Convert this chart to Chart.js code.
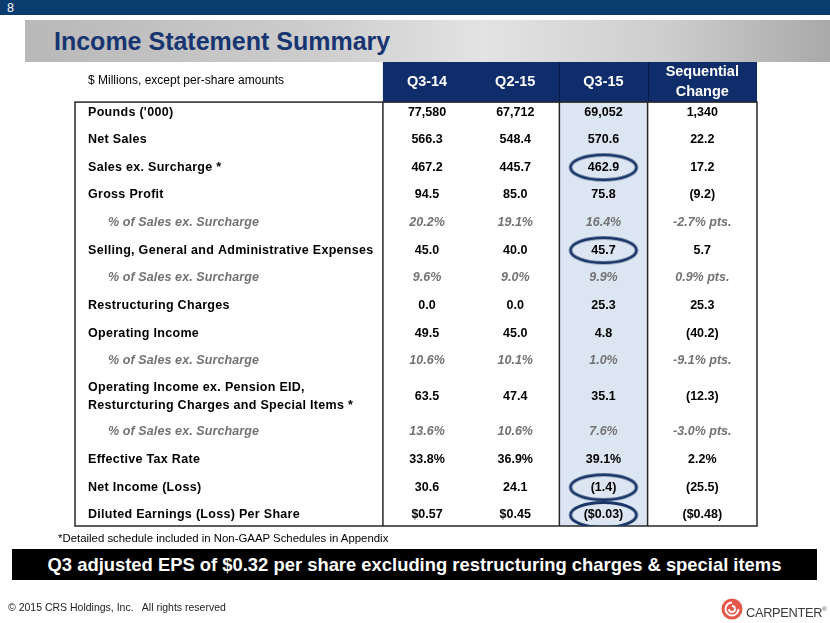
<!DOCTYPE html>
<html>
<head>
<meta charset="utf-8">
<script src="https://cdn.jsdelivr.net/npm/chart.js@4.4.0/dist/chart.umd.min.js"></script>
<style>
  html, body { margin: 0; padding: 0; background: #fff; }
  body { width: 830px; height: 623px; position: relative; overflow: hidden; font-family: "Liberation Sans", Arial, sans-serif; }
  #topbar { position: absolute; left: 0; top: 0; width: 830px; height: 15px; background: #0b3c6f; }
  #slideNo { position: absolute; left: 7px; top: 1px; color: #fff; font-size: 12.5px; line-height: 14px; }
  #band { position: absolute; left: 25px; top: 20px; width: 805px; height: 42px;
          background: linear-gradient(90deg, #b8b8b8 0%, #cccccc 35%, #e3e3e3 57%, #cdcdcd 80%, #a9a9a9 100%); }
  #title { position: absolute; left: 54px; top: 29px; font-size: 25px; line-height: 25px; font-weight: bold; color: #173570; }
  #wrap { position: absolute; left: 0; top: 0; width: 830px; height: 623px; }
  #note { position: absolute; left: 58px; top: 531px; font-size: 11.4px; line-height: 14px; color: #000; }
  #banner { position: absolute; left: 12px; top: 549px; width: 805px; height: 31px; background: #000; color: #fff;
            font-weight: bold; font-size: 18.4px; line-height: 31px; text-align: center; }
  #copy { position: absolute; left: 8px; top: 601px; font-size: 10.5px; line-height: 13px; color: #222; white-space: pre; }
  #logo { position: absolute; left: 721px; top: 598px; height: 22px; }
  #logoText { position: absolute; left: 746px; top: 601px; font-size: 12.8px; line-height: 16px; color: #3a3a3a; letter-spacing: -0.3px; }
  #logoText sup { font-size: 6px; vertical-align: 6px; }
</style>
</head>
<body>
<div id="topbar"></div>
<div id="slideNo">8</div>
<div id="band"></div>
<div id="title">Income Statement Summary</div>
<div id="wrap"><canvas id="chart" width="830" height="623"></canvas></div>
<div id="note">*Detailed schedule included in Non-GAAP Schedules in Appendix</div>
<div id="banner">Q3 adjusted EPS of $0.32 per share excluding restructuring charges &amp; special items</div>
<div id="copy">© 2015 CRS Holdings, Inc.   All rights reserved</div>
<svg id="logo" width="22" height="22" viewBox="0 0 22 22">
  <circle cx="11" cy="11" r="10.5" fill="#e5574b"/>
  <path d="M11 4.5 A6.5 6.5 0 1 0 17.5 11" fill="none" stroke="#fff" stroke-width="2"/>
  <path d="M11 8 A3 3 0 1 1 8 11" fill="none" stroke="#fff" stroke-width="1.8"/>
</svg>
<div id="logoText">CARPENTER<sup>®</sup></div>

<script>
// table content
const unitsNote = "$ Millions, except per-share amounts";
const periods = ["Q3-14", "Q2-15", "Q3-15", ["Sequential", "Change"]];
const rowLabels = [
    "Pounds ('000)",
    "Net Sales",
    "Sales ex. Surcharge *",
    "Gross Profit",
    "% of Sales ex. Surcharge",
    "Selling, General and Administrative Expenses",
    "% of Sales ex. Surcharge",
    "Restructuring Charges",
    "Operating Income",
    "% of Sales ex. Surcharge",
    ["Operating Income ex. Pension EID,", "Resturcturing Charges and Special Items *"],
    "% of Sales ex. Surcharge",
    "Effective Tax Rate",
    "Net Income (Loss)",
    "Diluted Earnings (Loss) Per Share"
];
const q314 = ["77,580", "566.3", "467.2", "94.5", "20.2%", "45.0", "9.6%", "0.0", "49.5", "10.6%", "63.5", "13.6%", "33.8%", "30.6", "$0.57"];
const q215 = ["67,712", "548.4", "445.7", "85.0", "19.1%", "40.0", "9.0%", "0.0", "45.0", "10.1%", "47.4", "10.6%", "36.9%", "24.1", "$0.45"];
const q315 = ["69,052", "570.6", "462.9", "75.8", "16.4%", "45.7", "9.9%", "25.3", "4.8", "1.0%", "35.1", "7.6%", "39.1%", "(1.4)", "($0.03)"];
const seqChange = ["1,340", "22.2", "17.2", "(9.2)", "-2.7% pts.", "5.7", "0.9% pts.", "25.3", "(40.2)", "-9.1% pts.", "(12.3)", "-3.0% pts.", "2.2%", "(25.5)", "($0.48)"];
const ratioRows = [4, 6, 9, 11];        // italic grey rows
const circledRows = [2, 5, 13, 14];     // circled in the Q3-15 column
const highlightCol = 3;

// layout (column widths / row heights in scale units)
const colWidths = [3.49, 1, 1, 1, 1.24];
const colEdges = colWidths.reduce((a, w) => a.concat(a[a.length - 1] + w), [0]);
const colCenter = i => (colEdges[i] + colEdges[i + 1]) / 2;
const rowHeight = rowLabels.map(l => Array.isArray(l) ? 1.57 : 1);
const rowCenters = [];
rowHeight.forEach((h, i) => {
    rowCenters.push(i === 0 ? 0 : rowCenters[i - 1] + (rowHeight[i - 1] + h) / 2);
});
const bodyTop = -0.36;
const headTop = -1.81;
const bodyBottom = rowCenters[rowCenters.length - 1] + 0.4;

const columns = [q314, q215, q315, seqChange];

// ellipse marker used as point style
function makeEllipse() {
    const c = document.createElement('canvas');
    c.width = 72;
    c.height = 30;
    const g = c.getContext('2d');
    g.strokeStyle = '#1a3668';
    g.lineWidth = 3;
    g.beginPath();
    g.ellipse(36, 15, 33, 12.5, 0, 0, Math.PI * 2);
    g.stroke();
    return c;
}

const tablePlugin = {
    id: 'tableCells',
    beforeDatasetsDraw(chart) {
        const { ctx, scales: { x, y } } = chart;
        const px = v => x.getPixelForValue(v);
        const py = v => y.getPixelForValue(v);
        ctx.save();

        // highlighted column
        ctx.fillStyle = '#dce6f2';
        ctx.fillRect(px(colEdges[highlightCol]), py(bodyTop), px(colEdges[highlightCol + 1]) - px(colEdges[highlightCol]), py(bodyBottom) - py(bodyTop));

        // header
        ctx.fillStyle = '#0f2d6b';
        ctx.fillRect(px(colEdges[1]), py(headTop), px(colEdges[5]) - px(colEdges[1]), py(bodyTop) - py(headTop));
        ctx.strokeStyle = '#061a45';
        ctx.lineWidth = 1;
        [3, 4].forEach(i => {
            ctx.beginPath();
            ctx.moveTo(Math.round(px(colEdges[i])) + 0.5, py(headTop));
            ctx.lineTo(Math.round(px(colEdges[i])) + 0.5, py(bodyTop));
            ctx.stroke();
        });

        // body borders
        ctx.strokeStyle = '#262626';
        ctx.lineWidth = 1.5;
        ctx.strokeRect(px(colEdges[0]), py(bodyTop), px(colEdges[5]) - px(colEdges[0]), py(bodyBottom) - py(bodyTop));
        [1, 3, 4].forEach(i => {
            ctx.beginPath();
            ctx.moveTo(px(colEdges[i]), py(bodyTop));
            ctx.lineTo(px(colEdges[i]), py(bodyBottom));
            ctx.stroke();
        });

        // header text
        ctx.textBaseline = 'middle';
        ctx.fillStyle = '#000';
        ctx.textAlign = 'left';
        ctx.font = '12px "Liberation Sans", Arial, sans-serif';
        ctx.fillText(unitsNote, px(0) + 13, py((headTop + bodyTop) / 2) - 1);

        ctx.fillStyle = '#fff';
        ctx.textAlign = 'center';
        ctx.font = 'bold 14.5px "Liberation Sans", Arial, sans-serif';
        periods.forEach((p, i) => {
            const cx = px(colCenter(i + 1));
            const cy = py((headTop + bodyTop) / 2);
            if (Array.isArray(p)) {
                ctx.fillText(p[0], cx, cy - 10);
                ctx.fillText(p[1], cx, cy + 10);
            } else {
                ctx.fillText(p, cx, cy);
            }
        });

        // body text
        rowLabels.forEach((label, r) => {
            const ratio = ratioRows.includes(r);
            ctx.font = (ratio ? 'italic ' : '') + 'bold 12.5px "Liberation Sans", Arial, sans-serif';
            ctx.fillStyle = ratio ? '#727272' : '#000';
            const cy = py(rowCenters[r]);
            ctx.textAlign = 'left';
            ctx.letterSpacing = ratio ? '0.1px' : '0.3px';
            const lx = px(0) + (ratio ? 33 : 13);
            if (Array.isArray(label)) {
                ctx.fillText(label[0], lx, cy - 9);
                ctx.fillText(label[1], lx, cy + 9);
            } else {
                ctx.fillText(label, lx, cy);
            }
            ctx.letterSpacing = '0px';
            ctx.textAlign = 'center';
            columns.forEach((col, c) => {
                ctx.fillText(col[r], px(colCenter(c + 1)), cy);
            });
        });
        ctx.restore();
    }
};

new Chart(document.getElementById('chart'), {
    type: 'scatter',
    data: {
        datasets: [{
            label: 'circled',
            data: circledRows.map(r => ({ x: colCenter(highlightCol), y: rowCenters[r] })),
            pointStyle: makeEllipse(),
            pointRadius: 10,
            pointHoverRadius: 10
        }]
    },
    options: {
        responsive: false,
        animation: false,
        events: [],
        layout: { padding: { left: 75, right: 73, top: 62, bottom: 97 } },
        plugins: { legend: { display: false }, tooltip: { enabled: false } },
        scales: {
            x: { type: 'linear', display: false, min: 0, max: colEdges[colEdges.length - 1] },
            y: { type: 'linear', display: false, reverse: true, min: headTop, max: bodyBottom }
        }
    },
    plugins: [tablePlugin]
});
</script>
</body>
</html>
